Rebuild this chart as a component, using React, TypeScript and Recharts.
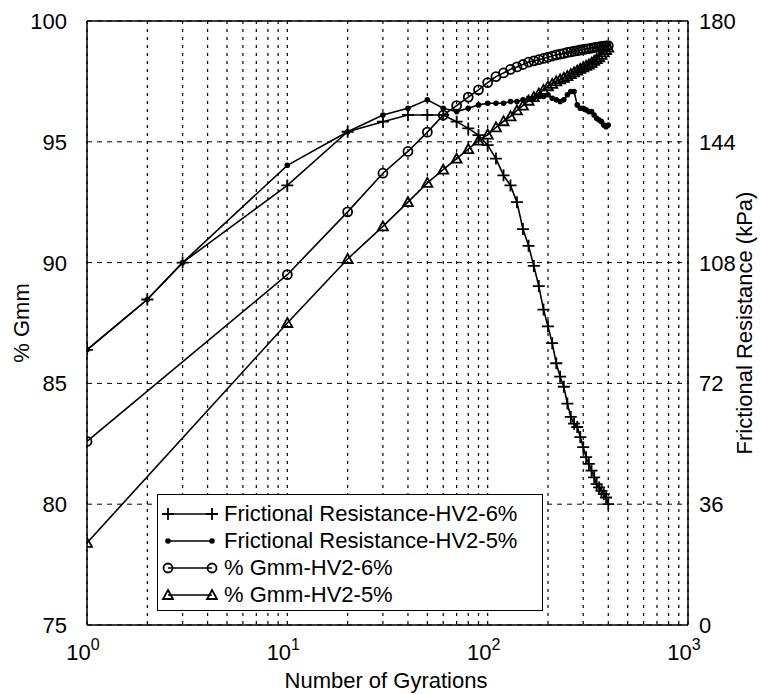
import {
  CartesianGrid,
  ComposedChart,
  Label,
  Legend,
  Line,
  ReferenceLine,
  XAxis,
  YAxis,
} from 'recharts'

// gyration counts where frictional resistance was logged
const frGyrations = [
  1, 2, 3, 10, 20, 30, 40, 50, 60, 70, 80, 90, 100, 110, 120, 130, 140, 150,
  160, 170, 180, 190, 200, 210, 220, 230, 240, 250, 260, 270, 280, 290, 300,
  310, 320, 330, 340, 350, 360, 370, 380, 390, 400,
]

// kPa, right axis
const fr6 = [
  82, 97, 108, 131, 147, 150, 152, 152, 152, 150, 148, 146, 143, 139, 134, 131,
  126, 118, 113, 107, 101, 94, 89, 84, 78, 74, 71, 66, 62, 60, 59, 56, 53, 50,
  48, 46, 44, 42, 41, 40, 39, 38, 36,
]
const fr5 = [
  82, 97, 108, 137, 147, 152, 154, 156.5, 154, 153, 154, 155, 155.5, 155.5,
  155.5, 156, 156, 156.5, 157, 157, 157.5, 157.5, 158, 157, 156.5, 156, 156.5,
  158, 159, 159, 155, 154, 154, 153.5, 153, 153, 152, 151, 150.5, 150, 149,
  148.5, 149,
]

// gyration counts for density
const gmmGyrations = [
  1, 10, 20, 30, 40, 50, 60, 70, 80, 90, 100, 110, 120, 130, 140, 150, 160, 170,
  180, 190, 200, 210, 220, 230, 240, 250, 260, 270, 280, 290, 300, 310, 320,
  330, 340, 350, 360, 370, 380, 390, 400,
]

// % Gmm, left axis
const gmm6 = [
  82.6, 89.5, 92.1, 93.7, 94.6, 95.4, 96.1, 96.5, 96.85, 97.15, 97.45, 97.7,
  97.85, 98.0, 98.1, 98.2, 98.3, 98.35, 98.4, 98.45, 98.5, 98.55, 98.6, 98.63,
  98.66, 98.7, 98.72, 98.75, 98.77, 98.8, 98.82, 98.84, 98.86, 98.88, 98.9,
  98.92, 98.93, 98.95, 98.96, 98.97, 98.98,
]
const gmm5 = [
  78.4, 87.5, 90.15, 91.5, 92.5, 93.3, 93.85, 94.3, 94.7, 95.05, 95.3, 95.6,
  95.85, 96.05, 96.3, 96.5, 96.7, 96.85, 97.0, 97.15, 97.3, 97.4, 97.5, 97.58,
  97.65, 97.72, 97.8, 97.87, 97.95, 98.02, 98.08, 98.14, 98.2, 98.27, 98.35,
  98.42, 98.5, 98.6, 98.7, 98.8, 98.9,
]

const xTicks = [
  1, 2, 3, 4, 5, 6, 7, 8, 9, 10, 20, 30, 40, 50, 60, 70, 80, 90, 100, 200, 300,
  400, 500, 600, 700, 800, 900, 1000,
]
const xLabels = [1, 10, 100, 1000]
const leftTicks = [75, 80, 85, 90, 95, 100]
const rightTicks = [0, 36, 72, 108, 144, 180]

const legendItems = [
  { label: 'Frictional Resistance-HV2-6%', marker: 'plus' },
  { label: 'Frictional Resistance-HV2-5%', marker: 'dot' },
  { label: '% Gmm-HV2-6%', marker: 'circle' },
  { label: '% Gmm-HV2-5%', marker: 'triangle' },
]

const data = frGyrations.map((n, i) => {
  const j = gmmGyrations.indexOf(n)
  return {
    n,
    fr6: fr6[i],
    fr5: fr5[i],
    gmm6: j >= 0 ? gmm6[j] : null,
    gmm5: j >= 0 ? gmm5[j] : null,
  }
})

const FONT = '"Liberation Sans", Arial, Helvetica, sans-serif'
const FS = 22

function Marker({ type, cx, cy }: { type: string; cx?: number; cy?: number }) {
  if (cx == null || cy == null) return null
  if (type === 'plus')
    return (
      <path
        d={`M${cx - 6},${cy}H${cx + 6}M${cx},${cy - 6}V${cy + 6}`}
        stroke='#000'
        strokeWidth={1.8}
      />
    )
  if (type === 'dot') return <circle cx={cx} cy={cy} r={2.8} fill='#000' />
  if (type === 'circle')
    return (
      <circle cx={cx} cy={cy} r={4.5} fill='none' stroke='#000' strokeWidth={1.8} />
    )
  return (
    <path
      d={`M${cx},${cy - 5}L${cx + 5},${cy + 4}L${cx - 5},${cy + 4}Z`}
      fill='none'
      stroke='#000'
      strokeWidth={1.8}
    />
  )
}

const dotFor = (type: string) => (p: any) => (
  <Marker key={`${type}-${p.index}`} type={type} cx={p.cx} cy={p.cy} />
)

const XTick = ({ x, y, payload }: any) => {
  if (!xLabels.includes(payload.value)) return <g />
  const exp = Math.round(Math.log10(payload.value))
  return (
    <text x={x - 4} y={y + 27} textAnchor='middle' fontFamily={FONT} fontSize={FS} fill='#000'>
      10
      <tspan dy={-10} fontSize={16}>
        {exp}
      </tspan>
    </text>
  )
}

const LeftTick = ({ y, payload }: any) => (
  <text x={67} y={y + 8} textAnchor='end' fontFamily={FONT} fontSize={FS} fill='#000'>
    {payload.value}
  </text>
)

const RightTick = ({ y, payload }: any) => (
  <text x={699} y={y + 8} textAnchor='start' fontFamily={FONT} fontSize={FS} fill='#000'>
    {payload.value}
  </text>
)

const renderLegend = () => (
  <div
    style={{
      border: '1.5px solid #000',
      background: '#fff',
      width: 386,
      height: 117,
      boxSizing: 'border-box',
      padding: '5px 0 0 2px',
      fontFamily: FONT,
      fontSize: FS,
      color: '#000',
    }}
  >
    {legendItems.map((item) => (
      <div key={item.label} style={{ display: 'flex', alignItems: 'center', height: 27 }}>
        <svg width={58} height={20}>
          <line x1={8} y1={10} x2={52} y2={10} stroke='#000' strokeWidth={1.6} />
          <Marker type={item.marker} cx={8} cy={10} />
          <Marker type={item.marker} cx={52} cy={10} />
        </svg>
        <span style={{ marginLeft: 6 }}>{item.label}</span>
      </div>
    ))}
  </div>
)

export default function App() {
  return (
    <div style={{ position: 'absolute', left: 0, top: 0, background: '#fff' }}>
      <ComposedChart
        width={761}
        height={694}
        data={data}
        margin={{ top: 21, right: 0, bottom: 0, left: 0 }}
      >
        <CartesianGrid
          horizontal={false}
          stroke='#000'
          strokeDasharray='3 5'
          strokeWidth={1.2}
        />
        <CartesianGrid
          vertical={false}
          yAxisId='left'
          stroke='#000'
          strokeDasharray='5 5'
        />
        <XAxis
          dataKey='n'
          type='number'
          scale='log'
          domain={[1, 1000]}
          ticks={xTicks}
          interval={0}
          allowDataOverflow
          height={69}
          tick={<XTick />}
          tickLine={false}
          axisLine={{ stroke: '#000', strokeWidth: 1.5 }}
        >
          <Label
            content={() => (
              <text x={386} y={688} textAnchor='middle' fontFamily={FONT} fontSize={FS} fill='#000'>
                Number of Gyrations
              </text>
            )}
          />
        </XAxis>
        <YAxis
          yAxisId='left'
          domain={[75, 100]}
          ticks={leftTicks}
          width={87}
          tick={<LeftTick />}
          tickLine={false}
          axisLine={{ stroke: '#000', strokeWidth: 1.5 }}
        >
          <Label
            content={() => (
              <text
                transform='translate(29,323) rotate(-90)'
                textAnchor='middle'
                fontFamily={FONT}
                fontSize={FS}
                fill='#000'
              >
                % Gmm
              </text>
            )}
          />
        </YAxis>
        <YAxis
          yAxisId='right'
          orientation='right'
          domain={[0, 180]}
          ticks={rightTicks}
          width={73}
          tick={<RightTick />}
          tickLine={false}
          axisLine={{ stroke: '#000', strokeWidth: 1.5 }}
        >
          <Label
            content={() => (
              <text
                transform='translate(752,323) rotate(-90)'
                textAnchor='middle'
                fontFamily={FONT}
                fontSize={FS}
                fill='#000'
              >
                Frictional Resistance (kPa)
              </text>
            )}
          />
        </YAxis>
        <ReferenceLine yAxisId='left' y={100} stroke='#000' strokeWidth={1.5} />
        <Line
          yAxisId='right'
          dataKey='fr6'
          stroke='#000'
          strokeWidth={1.6}
          dot={dotFor('plus')}
          activeDot={false}
          connectNulls
          isAnimationActive={false}
        />
        <Line
          yAxisId='right'
          dataKey='fr5'
          stroke='#000'
          strokeWidth={1.6}
          dot={dotFor('dot')}
          activeDot={false}
          connectNulls
          isAnimationActive={false}
        />
        <Line
          yAxisId='left'
          dataKey='gmm6'
          stroke='#000'
          strokeWidth={1.6}
          dot={dotFor('circle')}
          activeDot={false}
          connectNulls
          isAnimationActive={false}
        />
        <Line
          yAxisId='left'
          dataKey='gmm5'
          stroke='#000'
          strokeWidth={1.6}
          dot={dotFor('triangle')}
          activeDot={false}
          connectNulls
          isAnimationActive={false}
        />
        <Legend
          layout='vertical'
          align='center'
          verticalAlign='middle'
          content={renderLegend}
          wrapperStyle={{ left: 157, top: 494, width: 386, height: 117 }}
        />
      </ComposedChart>
    </div>
  )
}
